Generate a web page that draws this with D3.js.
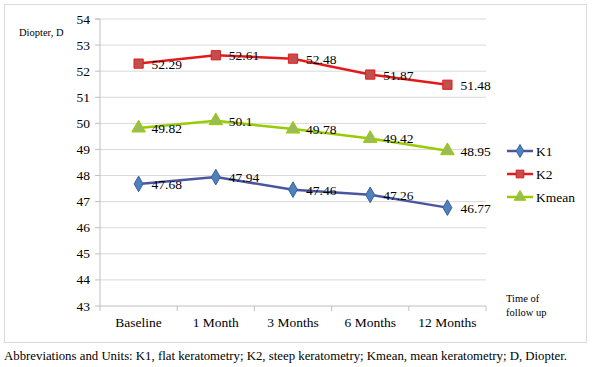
<!DOCTYPE html>
<html><head><meta charset="utf-8">
<script src="https://cdn.jsdelivr.net/npm/d3@7"></script>
<style>
body{margin:0;background:#fff}
svg text{font-family:"Liberation Serif","Times New Roman",serif;}
</style>
</head><body>
<svg id="c" width="600" height="367" font-family="Liberation Serif"></svg>
<script>
const categories = ["Baseline","1 Month","3 Months","6 Months","12 Months"];
const seriesNames = ["K1","K2","Kmean"];
const k1 = [47.68,47.94,47.46,47.26,46.77];
const k2 = [52.29,52.61,52.48,51.87,51.48];
const kmean = [49.82,50.1,49.78,49.42,48.95];
const yTicks = [43,44,45,46,47,48,49,50,51,52,53,54];

const FONT = "Liberation Serif";
const svg = d3.select("#c");
svg.append("rect").attr("x",4.5).attr("y",4.5).attr("width",582).attr("height",338)
  .attr("fill","#fff").attr("stroke","#d9d9d9");

const x = d3.scaleBand().domain(categories).range([100,486]);
const y = d3.scaleLinear().domain([43,54]).range([306,19]);

svg.append("g").selectAll("line").data(yTicks.filter(t=>t>43)).join("line")
  .attr("x1",100).attr("x2",486).attr("y1",d=>y(d)).attr("y2",d=>y(d))
  .attr("stroke","#d9d9d9").attr("stroke-width",1);

// y axis ticks drawn manually from scale
const ya = svg.append("g");
ya.append("path").attr("d","M95,"+y(54)+"H100V"+y(43)).attr("fill","none").attr("stroke","#bfbfbf");
ya.selectAll("line").data(yTicks).join("line")
  .attr("x1",95).attr("x2",100).attr("y1",d=>y(d)).attr("y2",d=>y(d)).attr("stroke","#bfbfbf");
ya.selectAll("text").data(yTicks).join("text")
  .attr("x",90).attr("y",d=>y(d)+4.5).attr("text-anchor","end")
  .attr("font-family",FONT).attr("font-size",13.5).text(d=>d);

const xa = svg.append("g");
xa.append("path").attr("d","M100,"+y(43)+"H486").attr("stroke","#bfbfbf");
const bounds = categories.map(c=>x(c)).concat([486]);
xa.selectAll("line").data(bounds).join("line")
  .attr("x1",d=>d).attr("x2",d=>d).attr("y1",y(43)).attr("y2",y(43)+5).attr("stroke","#bfbfbf");
xa.selectAll("text").data(categories).join("text")
  .attr("x",d=>x(d)+x.bandwidth()/2).attr("y",y(43)+21).attr("text-anchor","middle")
  .attr("font-family",FONT).attr("font-size",13.5).text(d=>d);

const series = [
  {name:"K1", values:k1, line:"#4b569e", fill:"#4f81bd", stroke:"#3a5f9a", shape:d3.symbolDiamond, size:70},
  {name:"K2", values:k2, line:"#e31a1c", fill:"#c0504d", stroke:"#e31a1c", shape:d3.symbolSquare, size:85},
  {name:"Kmean", values:kmean, line:"#99cc00", fill:"#9bbb59", stroke:"#99cc00", shape:d3.symbolTriangle, size:80}
];

const cx = c => x(c)+x.bandwidth()/2;
const line = d3.line().x((d,i)=>cx(categories[i])).y(d=>y(d));

series.forEach(s=>{
  const g = svg.append("g");
  g.append("path").attr("d",line(s.values)).attr("fill","none").attr("stroke",s.line).attr("stroke-width",2.5);
  g.selectAll("path.m").data(s.values).join("path").attr("class","m")
    .attr("transform",(d,i)=>"translate("+cx(categories[i])+","+y(d)+")")
    .attr("d",d3.symbol().type(s.shape).size(s.size)())
    .attr("fill",s.fill).attr("stroke",s.stroke).attr("stroke-width",1);
  g.selectAll("text").data(s.values).join("text")
    .attr("x",(d,i)=>cx(categories[i])+13).attr("y",d=>y(d)+5)
    .attr("font-family",FONT).attr("font-size",13.5).text(d=>d);
});

const lg = svg.append("g");
series.forEach((s,i)=>{
  const ly = 151 + i*23;
  lg.append("line").attr("x1",507).attr("x2",533).attr("y1",ly).attr("y2",ly).attr("stroke",s.line).attr("stroke-width",2.5);
  lg.append("path").attr("transform","translate(520,"+ly+")")
    .attr("d",d3.symbol().type(s.shape).size(s.size*0.7)()).attr("fill",s.fill).attr("stroke",s.stroke);
  lg.append("text").attr("x",536).attr("y",ly+5).attr("font-family",FONT).attr("font-size",13.5).text(s.name);
});

svg.append("text").attr("x",19).attr("y",36).attr("font-family",FONT).attr("font-size",10.5).text("Diopter, D");
svg.append("text").attr("x",506).attr("y",302).attr("font-family",FONT).attr("font-size",10.5).text("Time of");
svg.append("text").attr("x",506).attr("y",316).attr("font-family",FONT).attr("font-size",10.5).text("follow up");

svg.append("text").attr("x",4).attr("y",360).attr("font-family",FONT).attr("font-size",12.8)
  .text("Abbreviations and Units: K1, flat keratometry; K2, steep keratometry; Kmean, mean keratometry; D, Diopter.");
</script>
</body></html>
